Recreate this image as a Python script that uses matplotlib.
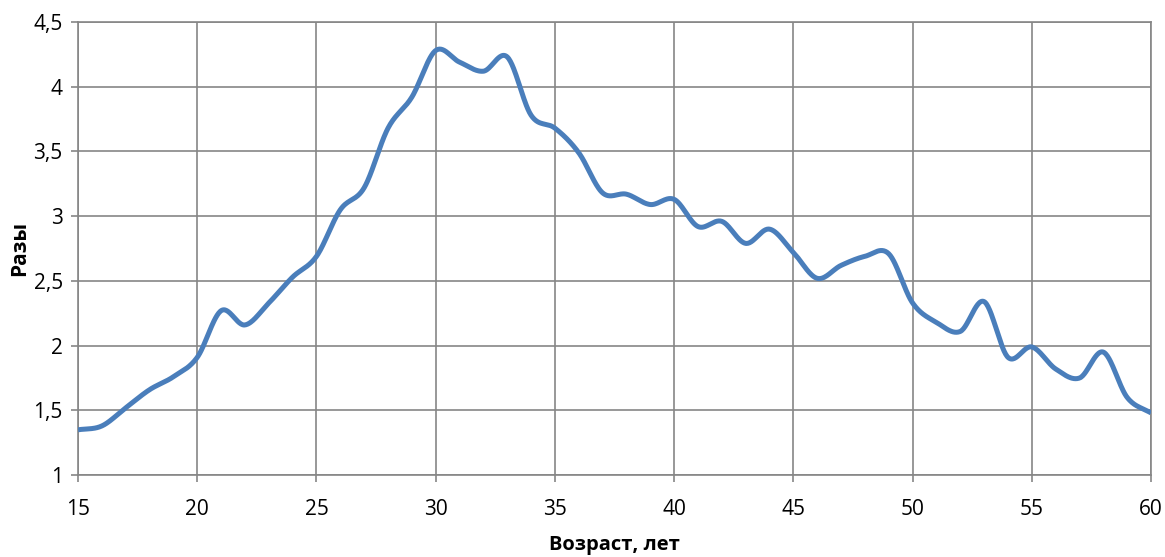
import matplotlib
matplotlib.use("Agg")
import matplotlib.pyplot as plt
import numpy as np

# возраст и значения (разы)
ages = list(range(15, 61))
values = [1.35, 1.38, 1.52, 1.66, 1.76, 1.91, 2.27, 2.16, 2.33, 2.53,
          2.69, 3.05, 3.22, 3.68, 3.92, 4.28, 4.19, 4.12, 4.23, 3.78,
          3.68, 3.49, 3.18, 3.17, 3.09, 3.13, 2.92, 2.96, 2.79, 2.90,
          2.72, 2.52, 2.62, 2.69, 2.71, 2.33, 2.18, 2.11, 2.34, 1.91,
          1.99, 1.82, 1.75, 1.95, 1.60, 1.48]

x_ticks = list(range(15, 61, 5))
y_ticks = [1, 1.5, 2, 2.5, 3, 3.5, 4, 4.5]
y_tick_labels = ["1", "1,5", "2", "2,5", "3", "3,5", "4", "4,5"]

FONT = ["Open Sans", "DejaVu Sans"]
GRID = "#868686"
LINE = "#4A7EBB"


def smooth(x, y, n=30):
    # сглаживание как в Excel: сплайн Катмулла-Рома через все точки
    x = np.asarray(x, float)
    y = np.asarray(y, float)
    px = np.concatenate([[2 * x[0] - x[1]], x, [2 * x[-1] - x[-2]]])
    py = np.concatenate([[2 * y[0] - y[1]], y, [2 * y[-1] - y[-2]]])
    t = np.linspace(0, 1, n, endpoint=False)
    xs, ys = [], []
    for i in range(1, len(px) - 2):
        for p, out in ((px, xs), (py, ys)):
            p0, p1, p2, p3 = p[i - 1], p[i], p[i + 1], p[i + 2]
            out.extend(0.5 * (2 * p1 + (-p0 + p2) * t
                              + (2 * p0 - 5 * p1 + 4 * p2 - p3) * t ** 2
                              + (-p0 + 3 * p1 - 3 * p2 + p3) * t ** 3))
    xs.append(x[-1])
    ys.append(y[-1])
    return np.array(xs), np.array(ys)


plt.rcParams["font.family"] = FONT

fig = plt.figure(figsize=(11.65, 5.57), dpi=100)
ax = fig.add_axes([0.067, 0.147, 0.921, 0.8135])

sx, sy = smooth(ages, values)
ax.plot(sx, sy, color=LINE, linewidth=3.6, solid_capstyle="butt", zorder=3)

ax.set_xlim(15, 60)
ax.set_ylim(1, 4.5)
ax.set_xticks(x_ticks)
ax.set_yticks(y_ticks)
ax.set_yticklabels(y_tick_labels)

ax.grid(True, color=GRID, linewidth=1.2)
ax.set_axisbelow(True)
for s in ax.spines.values():
    s.set_color(GRID)
    s.set_linewidth(1.2)

ax.tick_params(axis="both", direction="out", length=5, width=1.2, color=GRID,
               labelsize=15, labelcolor="black")
ax.tick_params(axis="x", pad=12)
ax.tick_params(axis="y", pad=6)

ax.set_xlabel("Возраст, лет", fontsize=14.5, fontweight="bold")
ax.set_ylabel("Разы", fontsize=15, fontweight="bold")
ax.xaxis.set_label_coords(0.5, -0.132)
ax.yaxis.set_label_coords(-0.045, 0.5)

fig.savefig("out.png", dpi=100)
